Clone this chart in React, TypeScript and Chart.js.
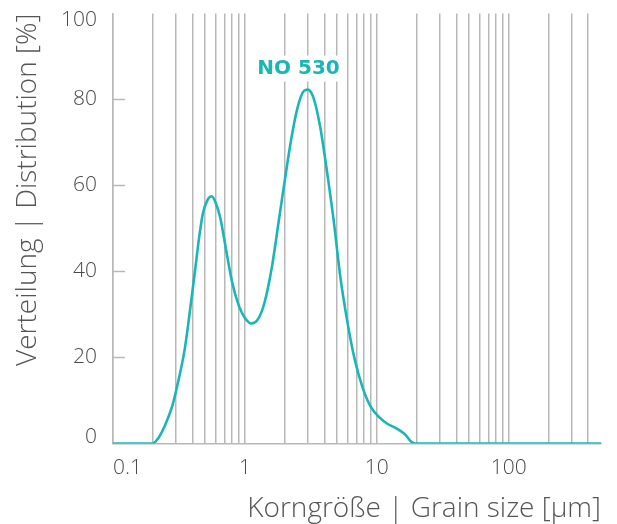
import { useEffect, useRef } from "react";
import { Chart, registerables } from "chart.js";

Chart.register(...registerables);

// Grain size [µm] and distribution [%]
const grainSizes = [
  0.1, 0.2, 0.22, 0.25, 0.28, 0.31, 0.35, 0.38, 0.42, 0.45, 0.48, 0.52, 0.56,
  0.6, 0.65, 0.72, 0.8, 0.9, 1.0, 1.12, 1.25, 1.4, 1.6, 1.8, 2.0, 2.25, 2.5,
  2.8, 3.0, 3.3, 3.7, 4.2, 4.7, 5.3, 6.0, 6.8, 7.8, 9.0, 10.5, 12, 13.5, 15,
  16.5, 18, 19.5, 500,
];
const distribution = [
  0, 0, 1.2, 4.5, 8.5, 14, 22, 30, 40.5, 48, 53.5, 56.6, 57.5, 56, 52.5, 45,
  37.5, 32, 29.2, 27.9, 28.8, 32.5, 41, 51.5, 61, 71, 78, 82, 82.3, 80.5, 74,
  63, 52, 38.5, 28, 19.5, 13, 8.5, 6, 4.6, 3.8, 3.0, 2.0, 0.6, 0, 0,
];

const xMin = 0.1;
const xMax = 500;
const xGridValues = [
  0.1, 0.2, 0.3, 0.4, 0.5, 0.6, 0.7, 0.8, 0.9,
  1, 2, 3, 4, 5, 6, 7, 8, 9,
  10, 20, 30, 40, 50, 60, 70, 80, 90,
  100, 200, 300, 400,
];
const xTickLabels = [0.1, 1, 10, 100];
const yTickValues = [0, 20, 40, 60, 80, 100];

const seriesName = "NO 530";
const seriesLabelX = 2.55;
const seriesLabelY = 87.2;
const xTitle = "Korngröße | Grain size [µm]";
const yTitle = "Verteilung | Distribution [%]";

const teal = "#1ab6b6";
const gridColor = "#b8b8b8";
const tickColor = "#4a4a4a";
const titleColor = "#555555";
const lightFont = '"Open Sans", "DejaVu Sans", sans-serif';

const labelPlugin = {
  id: "customLabels",
  afterDraw(chart: any) {
    const { ctx, chartArea } = chart;
    const x = chart.scales.x;
    const y = chart.scales.y;
    ctx.save();
    // inward y tick marks
    ctx.strokeStyle = gridColor;
    ctx.lineWidth = 1.5;
    yTickValues.forEach((v) => {
      if (v <= 0 || v >= 100) return;
      const py = y.getPixelForValue(v);
      ctx.beginPath();
      ctx.moveTo(chartArea.left, py);
      ctx.lineTo(chartArea.left + 12, py);
      ctx.stroke();
    });
    // y tick labels
    ctx.font = `300 21px ${lightFont}`;
    ctx.fillStyle = tickColor;
    ctx.textAlign = "right";
    ctx.textBaseline = "middle";
    yTickValues.forEach((v) => {
      let py = y.getPixelForValue(v);
      py = Math.min(Math.max(py, chartArea.top + 7), chartArea.bottom - 6);
      ctx.fillText(String(v), chartArea.left - 16, py);
    });
    // x tick labels
    xTickLabels.forEach((v) => {
      const px = x.getPixelForValue(v);
      if (px < chartArea.left + 10) {
        ctx.textAlign = "left";
        ctx.fillText(String(v), chartArea.left, chartArea.bottom + 24.5);
      } else {
        ctx.textAlign = "center";
        ctx.fillText(String(v), px, chartArea.bottom + 24.5);
      }
    });
    // series label
    ctx.font = 'bold 20px "DejaVu Sans", sans-serif';
    const lx = x.getPixelForValue(seriesLabelX);
    const ly = y.getPixelForValue(seriesLabelY);
    const w = ctx.measureText(seriesName).width;
    ctx.fillStyle = "#ffffff";
    ctx.fillRect(lx - w / 2 - 4, ly - 13, w + 8, 26);
    ctx.fillStyle = teal;
    ctx.textAlign = "center";
    ctx.textBaseline = "middle";
    ctx.fillText(seriesName, lx, ly);
    ctx.restore();
  },
};

export default function App() {
  const canvasRef = useRef<HTMLCanvasElement | null>(null);

  useEffect(() => {
    if (!canvasRef.current) return;
    const chart = new Chart(canvasRef.current, {
      type: "line",
      data: {
        datasets: [
          {
            label: seriesName,
            data: grainSizes.map((g, i) => ({ x: g, y: distribution[i] })),
            borderColor: teal,
            borderWidth: 2.6,
            pointRadius: 0,
            fill: false,
            cubicInterpolationMode: "monotone",
          },
        ],
      },
      options: {
        animation: false,
        responsive: false,
        devicePixelRatio: 1,
        layout: { padding: { left: 0, right: 16, top: 13.5, bottom: 0 } },
        plugins: {
          legend: { display: false },
          tooltip: { enabled: false },
        },
        scales: {
          x: {
            type: "logarithmic",
            min: xMin,
            max: xMax,
            afterBuildTicks: (scale: any) => {
              scale.ticks = xGridValues.map((value) => ({ value }));
            },
            afterFit: (scale: any) => {
              scale.height = 80.5;
            },
            ticks: { display: false, autoSkip: false },
            grid: {
              display: true,
              color: gridColor,
              lineWidth: 1.5,
              drawTicks: false,
            },
            border: { display: true, color: gridColor, width: 1.5 },
            title: {
              display: true,
              text: xTitle,
              align: "end",
              color: titleColor,
              font: { family: lightFont, size: 28, weight: "300", lineHeight: 1.1 },
              padding: { top: 0, bottom: 0 },
            },
          },
          y: {
            type: "linear",
            min: 0,
            max: 100,
            afterFit: (scale: any) => {
              scale.width = 113;
            },
            ticks: { display: false, stepSize: 20 },
            grid: { display: false, drawTicks: false },
            border: { display: true, color: gridColor, width: 1.5 },
            title: {
              display: true,
              text: yTitle,
              align: "end",
              color: titleColor,
              font: { family: lightFont, size: 28, weight: "300", lineHeight: 1.1 },
              padding: { top: 13, bottom: 0 },
            },
          },
        },
      },
      plugins: [labelPlugin],
    } as any);
    return () => chart.destroy();
  }, []);

  return (
    <div style={{ position: "absolute", left: 0, top: 0, width: 617, height: 524, background: "#fff" }}>
      <canvas ref={canvasRef} width={617} height={524} style={{ width: 617, height: 524, display: "block" }} />
    </div>
  );
}
